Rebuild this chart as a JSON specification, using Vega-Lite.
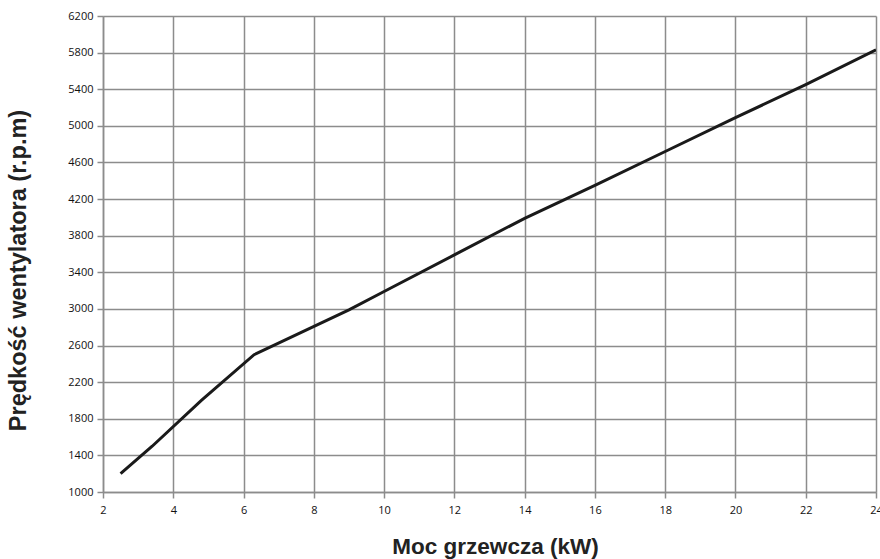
{
  "$schema": "https://vega.github.io/schema/vega-lite/v6.json",
  "width": 773,
  "height": 476,
  "autosize": {"type": "none"},
  "padding": {"left": 103, "top": 16, "right": 4, "bottom": 67},
  "background": "white",
  "config": {
    "view": {"stroke": null},
    "axis": {
      "gridColor": "#8c8c8c",
      "gridWidth": 1.5,
      "gridOpacity": 1,
      "domainColor": "#8c8c8c",
      "domainWidth": 1.5,
      "tickColor": "#8c8c8c",
      "tickWidth": 1.5,
      "tickSize": 6,
      "labelFont": "Open Sans",
      "labelFontSize": 11,
      "labelColor": "#111111",
      "titleFont": "Liberation Sans",
      "titleFontWeight": "bold",
      "titleColor": "#222222"
    }
  },
  "data": {
    "values": [
      {"kw": 2.5, "rpm": 1200},
      {"kw": 3.4, "rpm": 1500},
      {"kw": 4.8, "rpm": 2000},
      {"kw": 6.3, "rpm": 2500},
      {"kw": 9, "rpm": 2990},
      {"kw": 10, "rpm": 3190},
      {"kw": 12, "rpm": 3590},
      {"kw": 14, "rpm": 3990},
      {"kw": 16, "rpm": 4350},
      {"kw": 18, "rpm": 4720},
      {"kw": 20, "rpm": 5090},
      {"kw": 22, "rpm": 5450},
      {"kw": 24, "rpm": 5830}
    ]
  },
  "mark": {"type": "line", "color": "#1a1a1a", "strokeWidth": 3, "clip": true},
  "encoding": {
    "x": {
      "field": "kw",
      "type": "quantitative",
      "scale": {"domain": [2, 24], "nice": false, "zero": false},
      "axis": {
        "title": "Moc grzewcza (kW)",
        "format": "d",
        "values": [2, 4, 6, 8, 10, 12, 14, 16, 18, 20, 22, 24],
        "labelPadding": 6,
        "labelFlush": false,
        "titleFontSize": 22.5,
        "titleX": 392,
        "titleY": 61,
        "titleBaseline": "alphabetic"
      }
    },
    "y": {
      "field": "rpm",
      "type": "quantitative",
      "scale": {"domain": [1000, 6200], "nice": false, "zero": false},
      "axis": {
        "title": "Prędkość wentylatora (r.p.m)",
        "format": "d",
        "values": [1000, 1400, 1800, 2200, 2600, 3000, 3400, 3800, 4200, 4600, 5000, 5400, 5800, 6200],
        "labelPadding": 4,
        "labelFlush": false,
        "titleFontSize": 23.5,
        "titleX": -78,
        "titleY": 254,
        "titleBaseline": "alphabetic"
      }
    }
  }
}
